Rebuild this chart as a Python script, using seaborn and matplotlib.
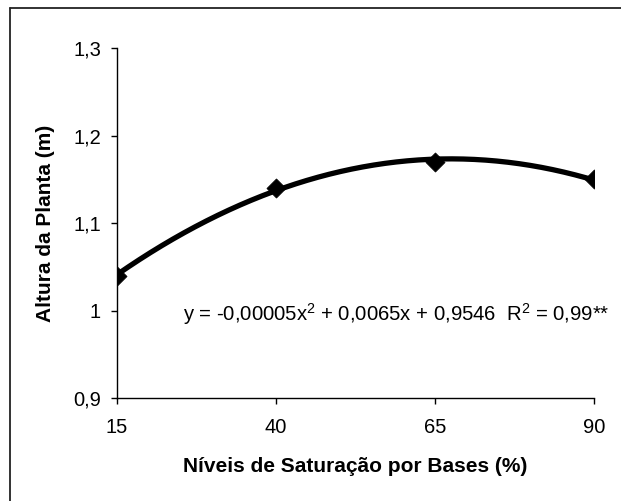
import numpy as np
import pandas as pd
import matplotlib
matplotlib.use("Agg")
import matplotlib.pyplot as plt
import seaborn as sns
from matplotlib.lines import Line2D

# Base saturation levels (%) and plant height (m)
saturacao = [15, 40, 65, 90]
altura = [1.04, 1.14, 1.17, 1.15]

x_ticks = [15, 40, 65, 90]
y_ticks = [0.9, 1.0, 1.1, 1.2, 1.3]
y_tick_labels = ["0,9", "1", "1,1", "1,2", "1,3"]

x_label = "Níveis de Saturação por Bases (%)"
y_label = "Altura da Planta (m)"
equacao = "y = -0,00005x$^2$ + 0,0065x + 0,9546  R$^2$ = 0,99**"

sns.set_style("ticks")
plt.rcParams["font.family"] = ["Liberation Sans", "DejaVu Sans"]
plt.rcParams["mathtext.fontset"] = "custom"
plt.rcParams["mathtext.rm"] = "Liberation Sans"
plt.rcParams["mathtext.it"] = "Liberation Sans"
plt.rcParams["mathtext.default"] = "regular"

W, H = 621, 501
fig = plt.figure(figsize=(W / 100, H / 100), dpi=100)
fig.patch.set_facecolor("white")

left, right, top, bottom = 117, 594, 48, 398
ax = fig.add_axes([left / W, 1 - bottom / H, (right - left) / W, (bottom - top) / H])
ax.set_facecolor("white")

df = pd.DataFrame({"x": saturacao, "y": altura})

# second-order polynomial trend line fitted to the measurements
coef = np.polyfit(df["x"], df["y"], 2)
xs = np.linspace(min(saturacao), max(saturacao), 300)
tendencia = pd.DataFrame({"x": xs, "y": np.polyval(coef, xs)})

sns.lineplot(data=tendencia, x="x", y="y", ax=ax, color="black", linewidth=3.8, zorder=2)
sns.scatterplot(data=df, x="x", y="y", ax=ax, marker="D", s=95, color="black",
                edgecolor="black", linewidth=0.5, zorder=3)

ax.set_xlim(15, 90)
ax.set_ylim(0.9, 1.3)
ax.set_xticks(x_ticks)
ax.set_xticklabels([str(v) for v in x_ticks])
ax.set_yticks(y_ticks)
ax.set_yticklabels(y_tick_labels)

sns.despine(ax=ax)
for side in ("left", "bottom"):
    ax.spines[side].set_color("black")
    ax.spines[side].set_linewidth(1.0)
ax.tick_params(axis="both", direction="out", length=4.5, width=1.0, color="black",
               labelsize=14.5, labelcolor="black")
ax.tick_params(axis="y", pad=7)
ax.tick_params(axis="x", pad=10)

ax.set_xlabel(x_label, fontsize=15, fontweight="bold", color="black")
ax.set_ylabel(y_label, fontsize=15, fontweight="bold", color="black")
ax.xaxis.set_label_coords(0.5, (bottom - 466) / (bottom - top))
ax.xaxis.label.set_va("center")
ax.yaxis.set_label_coords((46 - left) / (right - left), 0.5)
ax.yaxis.label.set_va("center")

fig.text(183 / W, 1 - 321 / H, equacao, fontsize=14.6, color="black",
         ha="left", va="baseline")

# chart frame (top and left edges)
fig.add_artist(Line2D([10 / W, 1], [1 - 7.5 / H, 1 - 7.5 / H], transform=fig.transFigure,
                      color="#222222", linewidth=1.3))
fig.add_artist(Line2D([10 / W, 10 / W], [0, 1 - 7.5 / H], transform=fig.transFigure,
                      color="#222222", linewidth=1.3))

fig.savefig("out.png", dpi=100, facecolor="white")
